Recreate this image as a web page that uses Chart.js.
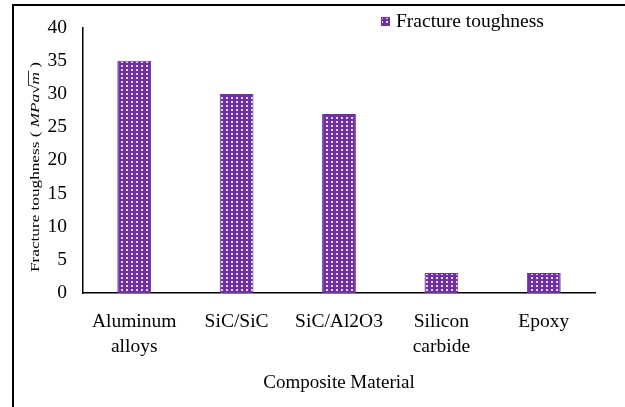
<!DOCTYPE html>
<html>
<head>
<meta charset="utf-8">
<script src="https://cdn.jsdelivr.net/npm/chart.js@4/dist/chart.umd.min.js"></script>
<style>
  html, body { margin: 0; padding: 0; background: #fff; }
  #wrap { position: relative; width: 625px; height: 407px; overflow: hidden; }
  #frame { position: absolute; left: 12px; top: 4px; width: 700px; height: 500px;
           border-left: 2px solid #000; border-top: 2px solid #000; box-sizing: border-box; }
  canvas { position: absolute; left: 0; top: 0; }
</style>
</head>
<body>
<div id="wrap">
  <div id="frame"></div>
  <canvas id="chart" width="625" height="407"></canvas>
</div>
<script>
// Fracture toughness of common composite / structural materials
const categories = [["Aluminum", "alloys"], ["SiC/SiC"], ["SiC/Al2O3"], ["Silicon", "carbide"], ["Epoxy"]];
const toughness = [35, 30, 27, 3, 3];
const seriesLabel = "Fracture toughness";
const xTitle = "Composite Material";
const yTitleParts = ["Fracture toughness ( ", "MPa", "\u221A", "m", " )"];
const yMin = 0, yMax = 40, yStep = 5;

const PURPLE = "#7030A0";
const SERIF = "'Liberation Serif', 'Times New Roman', serif";

// dotted fill: purple ground with a grid of small white squares
function makePattern() {
  const c = document.createElement("canvas");
  c.width = 5; c.height = 4;
  const g = c.getContext("2d");
  g.fillStyle = PURPLE;
  g.fillRect(0, 0, 5, 4);
  g.fillStyle = "rgba(255,255,255,0.8)";
  g.fillRect(1, 1, 2, 2);
  return g.createPattern(c, "repeat");
}
const ctx = document.getElementById("chart").getContext("2d");
const dotFill = makePattern();

// legend box + label drawn at the top right
const legendPlugin = {
  id: "legendBox",
  afterDraw(chart) {
    const c = chart.ctx;
    c.save();
    c.fillStyle = dotFill;
    c.fillRect(381, 17, 9, 9);
    c.strokeStyle = PURPLE;
    c.lineWidth = 1;
    c.strokeRect(381.5, 17.5, 8, 8);
    c.fillStyle = "#000";
    c.font = "19.5px " + SERIF;
    c.textBaseline = "middle";
    c.textAlign = "left";
    c.fillText(chart.data.datasets[0].label, 396, 22);
    c.restore();
  }
};

// rotated y-axis title with italic unit and a radical sign
const yTitlePlugin = {
  id: "yTitle",
  afterDraw(chart) {
    const c = chart.ctx;
    const fonts = ["13px " + SERIF, "italic 13px " + SERIF, "13px " + SERIF, "italic 13px " + SERIF, "13px " + SERIF];
    c.save();
    let widths = yTitleParts.map((t, i) => { c.font = fonts[i]; return c.measureText(t).width; });
    const total = widths.reduce((a, b) => a + b, 0);
    const target = 210;
    const sx = target / total;
    c.translate(35, 167);
    c.rotate(-Math.PI / 2);
    c.scale(sx, 1);
    c.fillStyle = "#000";
    c.textBaseline = "middle";
    c.textAlign = "left";
    let x = -total / 2;
    yTitleParts.forEach((t, i) => {
      c.font = fonts[i];
      c.fillText(t, x, 1);
      if (i === 3) {
        c.strokeStyle = "#000";
        c.lineWidth = 0.8;
        c.beginPath();
        c.moveTo(x - 1, -6.5);
        c.lineTo(x + widths[i] + 1, -6.5);
        c.stroke();
      }
      x += widths[i];
    });
    c.restore();
  }
};

new Chart(ctx, {
  type: "bar",
  data: {
    labels: categories,
    datasets: [{
      label: seriesLabel,
      data: toughness,
      backgroundColor: dotFill,
      borderColor: PURPLE,
      borderWidth: 1,
      categoryPercentage: 1,
      barPercentage: 0.33
    }]
  },
  options: {
    responsive: false,
    animation: false,
    devicePixelRatio: 1,
    layout: { padding: { left: 14, top: 27, right: 30, bottom: 0 } },
    plugins: { legend: { display: false }, tooltip: { enabled: false } },
    scales: {
      x: {
        grid: { display: false, drawTicks: false },
        border: { display: true, color: "#000", width: 1.5 },
        ticks: {
          color: "#000",
          font: { family: SERIF, size: 19.5, lineHeight: 1.3 },
          padding: 16,
          maxRotation: 0,
          autoSkip: false
        },
        title: {
          display: true,
          text: xTitle,
          color: "#000",
          font: { family: SERIF, size: 19, lineHeight: 1.2 },
          padding: { top: 0, bottom: 12.6 }
        },
        afterFit(scale) { scale.height = 114; }
      },
      y: {
        min: yMin,
        max: yMax,
        grid: { display: false, drawTicks: false },
        border: { display: true, color: "#000", width: 1.5 },
        ticks: {
          stepSize: yStep,
          color: "#000",
          font: { family: SERIF, size: 19.5 },
          padding: 16
        },
        afterFit(scale) { scale.width = 69; }
      }
    }
  },
  plugins: [legendPlugin, yTitlePlugin]
});
</script>
</body>
</html>
